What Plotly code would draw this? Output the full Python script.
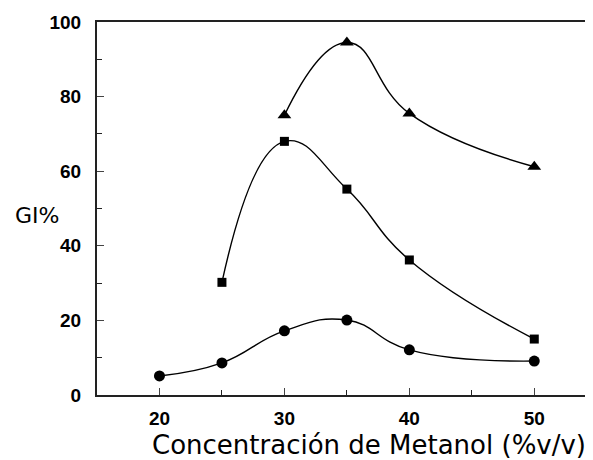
import plotly.graph_objects as go

x_tri = [30, 35, 40, 50]
y_tri = [75, 94.5, 75.5, 61.2]
x_sq = [25, 30, 35, 40, 50]
y_sq = [30.2, 68, 55.2, 36.2, 15]
x_ci = [20, 25, 30, 35, 40, 50]
y_ci = [5.1, 8.6, 17.2, 20.1, 12.1, 9.1]

x_ticks = [20, 30, 40, 50]
y_ticks = [0, 20, 40, 60, 80, 100]

# page has an 8px body margin; figure sized so the plot reaches the right edge
W, H = 585, 452
L, T, B = 89, 14, 65
plot_w = W - L
plot_h = H - T - B

fig = go.Figure()
for xs, ys, sym, sz in [(x_tri, y_tri, "triangle-up", 12), (x_sq, y_sq, "square", 9), (x_ci, y_ci, "circle", 11)]:
    fig.add_trace(go.Scatter(x=xs, y=ys, mode="lines+markers",
                             line=dict(color="black", width=1.4, shape="spline", smoothing=1.3),
                             marker=dict(symbol=sym, size=sz, color="black"),
                             showlegend=False))

fig.update_layout(
    width=W, height=H,
    margin=dict(l=L, r=0, t=T, b=B),
    paper_bgcolor="white", plot_bgcolor="white",
    font=dict(family="Liberation Sans", color="black"),
)
fig.update_xaxes(range=[15, 54.7], tickvals=x_ticks, ticks="inside", ticklen=7, tickwidth=1.2,
                 showline=True, linecolor="#222", linewidth=2, mirror=True, showgrid=False, zeroline=False,
                 ticklabelstandoff=5,
                 tickfont=dict(family="Liberation Sans", size=19, weight="bold"),
                 minor=dict(tickvals=[25, 35, 45], ticks="inside", ticklen=5, tickcolor="#222"))
fig.update_yaxes(range=[0, 100], tickvals=y_ticks, ticks="inside", ticklen=7, tickwidth=1.2,
                 showline=True, linecolor="#222", linewidth=2, showgrid=False, zeroline=False,
                 ticklabelstandoff=10,
                 tickfont=dict(family="Liberation Sans", size=19, weight="bold"),
                 minor=dict(tickvals=[10, 30, 50, 70, 90], ticks="inside", ticklen=5, tickcolor="#222"))

# GI% centred near page (37, 215) -> figure (29, 207)
fig.add_annotation(text="GI%", xref="paper", yref="paper", x=(29 - L) / plot_w, y=(T + plot_h - 207) / plot_h,
                   showarrow=False, xanchor="center", yanchor="middle",
                   font=dict(family="DejaVu Sans", size=22))
# x title centred near page (369, 445) -> figure (361, 437)
fig.add_annotation(text="Concentración de Metanol (%v/v)", xref="paper", yref="paper",
                   x=(361 - L) / plot_w, y=(T + plot_h - 437) / plot_h,
                   showarrow=False, xanchor="center", yanchor="middle",
                   font=dict(family="DejaVu Sans", size=26))

fig.write_html("out.html")
